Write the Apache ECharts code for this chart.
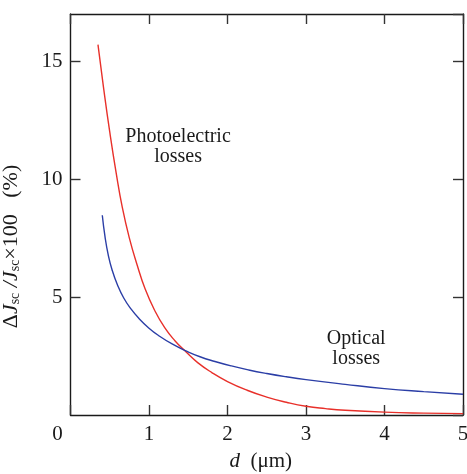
<!DOCTYPE html>
<html>
<head>
<meta charset="utf-8">
<style>
  html, body { margin: 0; padding: 0; background: #fff; }
  #chart { width: 467px; height: 474px; }
</style>
<script src="https://cdn.jsdelivr.net/npm/echarts@6/dist/echarts.min.js"></script>
</head>
<body>
<div id="chart"></div>
<script>
// Film thickness d (µm) and current losses (%)
const dPhoto = [0.35, 0.42, 0.50, 0.58, 0.66, 0.75, 0.85, 0.95, 1.07, 1.20, 1.33, 1.47, 1.62, 1.80, 2.00, 2.25, 2.50, 2.75, 3.00, 3.25, 3.50, 4.00, 4.50, 5.00];
const photoLoss = [15.7, 13.9, 12.0, 10.3, 8.8, 7.5, 6.35, 5.35, 4.45, 3.7, 3.15, 2.68, 2.22, 1.80, 1.42, 1.05, 0.76, 0.54, 0.37, 0.27, 0.20, 0.12, 0.08, 0.06];

const dOptical = [0.405, 0.44, 0.48, 0.53, 0.60, 0.68, 0.77, 0.87, 1.00, 1.13, 1.30, 1.47, 1.65, 1.84, 2.05, 2.27, 2.50, 2.75, 3.00, 3.50, 4.00, 4.50, 5.00];
const opticalLoss = [8.47, 7.55, 6.8, 6.15, 5.5, 4.95, 4.5, 4.1, 3.68, 3.35, 3.0, 2.72, 2.47, 2.27, 2.08, 1.91, 1.76, 1.62, 1.50, 1.30, 1.12, 0.99, 0.88];

// Curve annotations: [d, value, text]
const notes = [
  [1.37, 11.36, 'Photoelectric\nlosses'],
  [3.64, 2.81, 'Optical\nlosses']
];

const yTicks = [5, 10, 15];

const serif = '"Liberation Serif", "DejaVu Serif", serif';
const ink = '#1a1a1a';

const chart = echarts.init(document.getElementById('chart'), null, { renderer: 'canvas' });

const frameLine = { show: true, onZero: false, lineStyle: { color: ink, width: 1.4 } };
const innerTick = { show: true, inside: true, length: 10, lineStyle: { color: '#333', width: 1.4 } };

chart.setOption({
  animation: false,
  backgroundColor: '#fff',
  grid: { left: 70.5, right: 4, top: 14, bottom: 59, containLabel: false, outerBoundsMode: 'none' },
  xAxis: [
    {
      type: 'value', min: 0, max: 5, interval: 1, position: 'bottom',
      axisLine: frameLine, axisTick: innerTick, splitLine: { show: false },
      axisLabel: {
        margin: 9, color: ink, fontFamily: serif, fontSize: 21,
        formatter: v => (v === 0 ? '{z|0}' : String(v)),
        rich: { z: { fontFamily: serif, fontSize: 21, color: ink, padding: [0, 26, 0, 0] } }
      },
      name: '{i|d}  (μm)',
      nameLocation: 'middle', nameGap: 36,
      nameTextStyle: {
        color: ink, fontFamily: serif, fontSize: 21, padding: [0, 12, 0, 0],
        rich: { i: { fontStyle: 'italic', fontFamily: serif, fontSize: 21, color: ink } }
      }
    },
    {
      type: 'value', min: 0, max: 5, interval: 1, position: 'top',
      axisLine: frameLine, axisTick: innerTick, axisLabel: { show: false }, splitLine: { show: false }
    }
  ],
  yAxis: [
    {
      type: 'value', min: 0, max: 17, interval: 5, position: 'left',
      axisLine: frameLine, axisTick: innerTick, splitLine: { show: false },
      axisLabel: {
        margin: 8, color: ink, fontFamily: serif, fontSize: 21,
        showMinLabel: false, showMaxLabel: false,
        formatter: v => (yTicks.includes(v) ? String(v) : '')
      },
      name: 'Δ{i|J}{s|sc}{i| /J}{s|sc}×100   (%)',
      nameLocation: 'middle', nameGap: 48, nameRotate: 90,
      nameTextStyle: {
        color: ink, fontFamily: serif, fontSize: 22, padding: [0, 64, 0, 0],
        rich: {
          i: { fontStyle: 'italic', fontFamily: serif, fontSize: 22, color: ink },
          s: { fontFamily: serif, fontSize: 14, color: ink, verticalAlign: 'bottom', padding: [8, 0, 0, 0] }
        }
      }
    },
    {
      type: 'value', min: 0, max: 17, interval: 5, position: 'right',
      axisLine: frameLine, axisTick: innerTick, axisLabel: { show: false }, splitLine: { show: false }
    }
  ],
  series: [
    {
      name: 'Photoelectric losses', type: 'line', xAxisIndex: 0, yAxisIndex: 0,
      data: dPhoto.map((d, i) => [d, photoLoss[i]]),
      showSymbol: false, smooth: 0.5,
      lineStyle: { color: '#e8302a', width: 1.4 }
    },
    {
      name: 'Optical losses', type: 'line', xAxisIndex: 0, yAxisIndex: 0,
      data: dOptical.map((d, i) => [d, opticalLoss[i]]),
      showSymbol: false, smooth: 0.5,
      lineStyle: { color: '#2b3ea6', width: 1.4 }
    },
    {
      name: 'notes', type: 'scatter', xAxisIndex: 0, yAxisIndex: 0,
      symbolSize: 0, silent: true,
      itemStyle: { opacity: 1 },
      data: notes.map(n => ({ value: [n[0], n[1]], label: { formatter: n[2] } })),
      label: {
        show: true, position: 'inside', align: 'center', verticalAlign: 'middle',
        color: ink, opacity: 1, textBorderWidth: 0, fontFamily: serif, fontSize: 20, lineHeight: 20
      }
    }
  ]
});
</script>
</body>
</html>
